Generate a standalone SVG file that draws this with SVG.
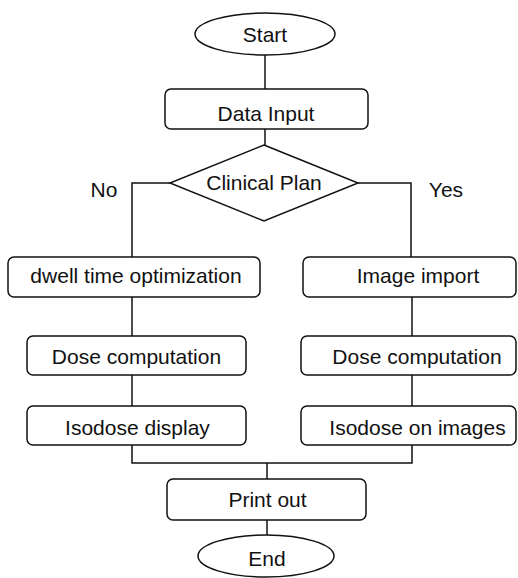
<svg xmlns="http://www.w3.org/2000/svg" width="518" height="578" viewBox="0 0 518 578">
<style>
.s{fill:#fff;stroke:#111;stroke-width:1.5}
.c{fill:none;stroke:#111;stroke-width:1.5}
text{font-family:"Liberation Sans",Arial,sans-serif;font-size:21px;fill:#111;text-anchor:middle}
</style>
<rect width="518" height="578" fill="#fff"/>
<g id="connectors">
<line class="c" x1="265" y1="55" x2="265" y2="89"/>
<line class="c" x1="265" y1="129" x2="265" y2="145"/>
<polyline class="c" points="170,183 132,183 132,257"/>
<polyline class="c" points="358,183 411,183 411,257"/>
<line class="c" x1="132" y1="297" x2="132" y2="336"/>
<line class="c" x1="132" y1="375" x2="132" y2="406"/>
<line class="c" x1="412" y1="297" x2="412" y2="336"/>
<line class="c" x1="412" y1="375" x2="412" y2="406"/>
<polyline class="c" points="132,445 132,463 412,463 412,445"/>
<line class="c" x1="267" y1="463" x2="267" y2="479"/>
<line class="c" x1="267" y1="520" x2="267" y2="535"/>
</g>
<g id="start"><ellipse class="s" cx="265" cy="34" rx="70" ry="21"/><text x="265" y="42">Start</text></g>
<g id="data-input"><rect class="s" x="165" y="89" width="203" height="40" rx="6"/><text x="266" y="121">Data Input</text></g>
<g id="clinical-plan"><polygon class="s" points="264,145 358,183 264,221 170,183"/><text x="264" y="190">Clinical Plan</text></g>
<g id="label-no"><text x="104" y="197">No</text></g>
<g id="label-yes"><text x="446" y="197">Yes</text></g>
<g id="dwell"><rect class="s" x="8" y="257" width="252" height="40" rx="6"/><text x="136" y="283">dwell time optimization</text></g>
<g id="image-import"><rect class="s" x="303" y="257" width="213" height="40" rx="6"/><text x="418" y="283">Image import</text></g>
<g id="dose-left"><rect class="s" x="27" y="336" width="219" height="39" rx="6"/><text x="136.5" y="364">Dose computation</text></g>
<g id="dose-right"><rect class="s" x="301" y="336" width="215" height="39" rx="6"/><text x="417" y="364">Dose computation</text></g>
<g id="isodose-display"><rect class="s" x="27" y="406" width="219" height="39" rx="6"/><text x="137.5" y="435">Isodose display</text></g>
<g id="isodose-images"><rect class="s" x="301" y="406" width="215" height="39" rx="6"/><text x="417.5" y="435">Isodose on images</text></g>
<g id="print-out"><rect class="s" x="167" y="479" width="199" height="41" rx="6"/><text x="267.5" y="507">Print out</text></g>
<g id="end"><ellipse class="s" cx="266" cy="556" rx="68" ry="21"/><text x="267" y="566">End</text></g>
</svg>
